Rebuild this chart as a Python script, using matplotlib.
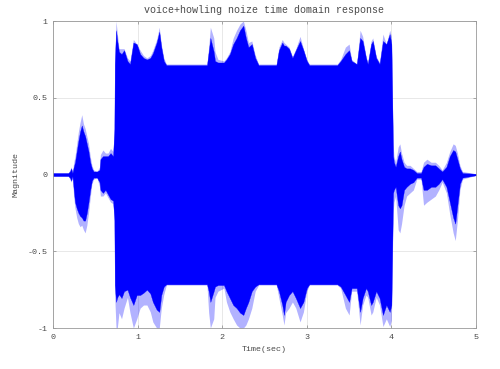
import matplotlib
matplotlib.use('Agg')
import matplotlib.pyplot as plt

# envelope of the waveform (time in sec)
t = [0.00, 0.18, 0.20, 0.215, 0.23, 0.245, 0.26, 0.28, 0.30, 0.32, 0.34, 0.36, 0.38, 0.40, 0.42, 0.44, 0.46, 0.48,
     0.52, 0.55, 0.56, 0.59, 0.62, 0.65, 0.68, 0.71, 0.725,
     0.73, 0.745, 0.76, 0.78, 0.81, 0.84, 0.88, 0.91, 0.95, 0.99, 1.03, 1.07, 1.11, 1.15, 1.18, 1.225, 1.256,
     1.28, 1.31, 1.34, 1.82, 1.84, 1.86, 1.90, 1.915, 1.95, 2.02, 2.05, 2.09, 2.13, 2.17, 2.21, 2.25, 2.28,
     2.31, 2.35, 2.39, 2.43, 2.64, 2.67, 2.71, 2.73, 2.75, 2.79, 2.83, 2.87, 2.92, 2.96, 3.00, 3.03, 3.36,
     3.40, 3.456, 3.50, 3.53, 3.59, 3.63, 3.66, 3.70, 3.72, 3.76, 3.78, 3.82, 3.86, 3.90, 3.94, 3.98, 4.00,
     4.02, 4.03, 4.05, 4.08, 4.10, 4.12, 4.15, 4.18, 4.22, 4.26, 4.30, 4.35, 4.38, 4.42, 4.47, 4.52, 4.56,
     4.60, 4.65, 4.69, 4.73, 4.755, 4.78, 4.81, 4.84, 5.00]

upper_peak = [0.01, 0.01, 0.03, 0.05, 0.02, 0.08, 0.12, 0.20, 0.28, 0.34, 0.39, 0.33, 0.30, 0.25, 0.20, 0.12, 0.06, 0.03,
              0.02, 0.05, 0.13, 0.16, 0.14, 0.14, 0.17, 0.15, 0.30,
              0.75, 1.00, 0.92, 0.82, 0.82, 0.82, 0.76, 0.74, 0.88, 0.85, 0.81, 0.775, 0.76, 0.775, 0.81, 0.88, 0.96,
              0.85, 0.76, 0.72, 0.72, 0.83, 0.96, 0.89, 0.80, 0.75, 0.74, 0.76, 0.80, 0.89, 0.94, 0.98, 1.00, 0.94,
              0.86, 0.87, 0.78, 0.72, 0.72, 0.83, 0.88, 0.86, 0.85, 0.83, 0.77, 0.82, 0.90, 0.82, 0.75, 0.72, 0.72,
              0.75, 0.83, 0.85, 0.75, 0.72, 0.94, 0.90, 0.77, 0.73, 0.87, 0.89, 0.77, 0.73, 0.915, 0.85, 0.94, 0.90,
              0.20, 0.12, 0.08, 0.18, 0.20, 0.14, 0.08, 0.06, 0.06, 0.04, 0.02, 0.02, 0.08, 0.10, 0.08, 0.08, 0.06,
              0.03, 0.08, 0.15, 0.20, 0.19, 0.14, 0.06, 0.02, 0.005]

upper_body = [0.01, 0.01, 0.02, 0.04, 0.01, 0.05, 0.08, 0.15, 0.22, 0.28, 0.32, 0.28, 0.25, 0.20, 0.15, 0.08, 0.04, 0.02,
              0.02, 0.03, 0.10, 0.12, 0.12, 0.12, 0.14, 0.12, 0.30,
              0.72, 0.94, 0.87, 0.80, 0.785, 0.81, 0.74, 0.72, 0.86, 0.85, 0.785, 0.76, 0.75, 0.76, 0.79, 0.86, 0.93,
              0.83, 0.74, 0.713, 0.713, 0.80, 0.89, 0.80, 0.74, 0.73, 0.73, 0.75, 0.785, 0.85, 0.89, 0.94, 0.97, 0.89,
              0.83, 0.85, 0.76, 0.713, 0.713, 0.81, 0.86, 0.84, 0.84, 0.82, 0.76, 0.81, 0.87, 0.81, 0.74, 0.713, 0.713,
              0.74, 0.785, 0.81, 0.74, 0.72, 0.89, 0.87, 0.76, 0.72, 0.85, 0.87, 0.76, 0.72, 0.87, 0.85, 0.915, 0.85,
              0.12, 0.08, 0.05, 0.12, 0.15, 0.10, 0.05, 0.04, 0.04, 0.03, 0.01, 0.01, 0.05, 0.07, 0.06, 0.06, 0.04,
              0.02, 0.05, 0.12, 0.16, 0.15, 0.10, 0.04, 0.01, 0.005]

lower_body = [-0.01, -0.01, -0.02, -0.04, -0.01, -0.10, -0.18, -0.22, -0.25, -0.27, -0.28, -0.30, -0.30, -0.25, -0.18,
              -0.10, -0.04, -0.02,
              -0.02, -0.05, -0.10, -0.12, -0.10, -0.13, -0.16, -0.17, -0.30,
              -0.72, -0.83, -0.80, -0.78, -0.805, -0.76, -0.75, -0.80, -0.85, -0.785, -0.785, -0.77, -0.75, -0.775,
              -0.83, -0.88, -0.895,
              -0.785, -0.73, -0.715, -0.715, -0.76, -0.83, -0.76, -0.73, -0.72, -0.72, -0.76, -0.805, -0.85, -0.87,
              -0.90, -0.915, -0.87,
              -0.83, -0.76, -0.73, -0.715, -0.715, -0.76, -0.85, -0.915, -0.83, -0.785, -0.76, -0.805, -0.87, -0.83,
              -0.74, -0.715, -0.715,
              -0.73, -0.785, -0.83, -0.74, -0.74, -0.895, -0.805, -0.74, -0.76, -0.85, -0.83, -0.76, -0.805, -0.915,
              -0.85, -0.895, -0.85,
              -0.12, -0.10, -0.08, -0.20, -0.22, -0.20, -0.10, -0.08, -0.06, -0.05, -0.02, -0.02, -0.10, -0.10, -0.08,
              -0.08, -0.06,
              -0.03, -0.08, -0.18, -0.28, -0.32, -0.20, -0.06, -0.02, -0.005]

lower_peak = [-0.01, -0.01, -0.03, -0.05, -0.02, -0.15, -0.22, -0.28, -0.32, -0.34, -0.33, -0.36, -0.38, -0.33, -0.25,
              -0.15, -0.06, -0.03,
              -0.02, -0.08, -0.14, -0.14, -0.12, -0.15, -0.18, -0.19, -0.30,
              -0.80, -1.00, -1.00, -0.90, -0.94, -0.87, -0.80, -0.90, -1.00, -0.94, -0.87, -0.85, -0.85, -0.895,
              -0.96, -1.00, -1.00,
              -0.87, -0.78, -0.72, -0.72, -0.90, -1.00, -0.94, -0.80, -0.76, -0.74, -0.83, -0.895, -0.94, -0.98,
              -1.00, -1.00, -0.98,
              -0.94, -0.87, -0.76, -0.72, -0.72, -0.805, -0.915, -0.98, -0.90, -0.87, -0.83, -0.87, -0.96, -0.895,
              -0.76, -0.72, -0.72,
              -0.74, -0.87, -0.915, -0.76, -0.76, -0.98, -0.85, -0.785, -0.80, -0.915, -0.895, -0.80, -0.85, -0.99,
              -0.94, -0.99, -0.95,
              -0.25, -0.18, -0.14, -0.36, -0.38, -0.32, -0.20, -0.14, -0.12, -0.10, -0.03, -0.03, -0.20, -0.18, -0.16,
              -0.14, -0.10,
              -0.05, -0.12, -0.26, -0.38, -0.43, -0.30, -0.10, -0.03, -0.005]

x_ticks = [0, 1, 2, 3, 4, 5]
y_ticks = [-1, -0.5, 0, 0.5, 1]
y_tick_labels = ['-1', '-0.5', '0', '0.5', '1']

txt = '#4a4a4a'
plt.rcParams['font.family'] = ['Liberation Mono', 'DejaVu Sans Mono']
plt.rcParams['font.size'] = 6

fig = plt.figure(figsize=(5, 3.69), dpi=100)
ax = fig.add_axes([0.106, 0.111, 0.846, 0.832])

ax.fill_between(t, lower_peak, upper_peak, color='#0000ff', alpha=0.3, linewidth=0)
ax.fill_between(t, lower_body, upper_body, color='#0000ff', linewidth=0.2, edgecolor='#0000ff')

ax.set_xlim(0, 5)
ax.set_ylim(-1, 1)
ax.set_xticks(x_ticks)
ax.set_yticks(y_ticks)
ax.set_yticklabels(y_tick_labels)
ax.grid(True, color='#e4e4e4', linewidth=0.6)
ax.set_axisbelow(True)
ax.tick_params(direction='in', length=2.5, width=0.5, colors='#888888', labelcolor=txt,
               top=True, right=True, pad=4)
for s in ax.spines.values():
    s.set_color('#999999')
    s.set_linewidth(0.6)

ax.set_title('voice+howling noize time domain response', color=txt, pad=6)
ax.set_xlabel('Time(sec)', color=txt, labelpad=4)
ax.set_ylabel('Magnitude', color=txt, labelpad=6)

fig.savefig('out.png', dpi=100)
